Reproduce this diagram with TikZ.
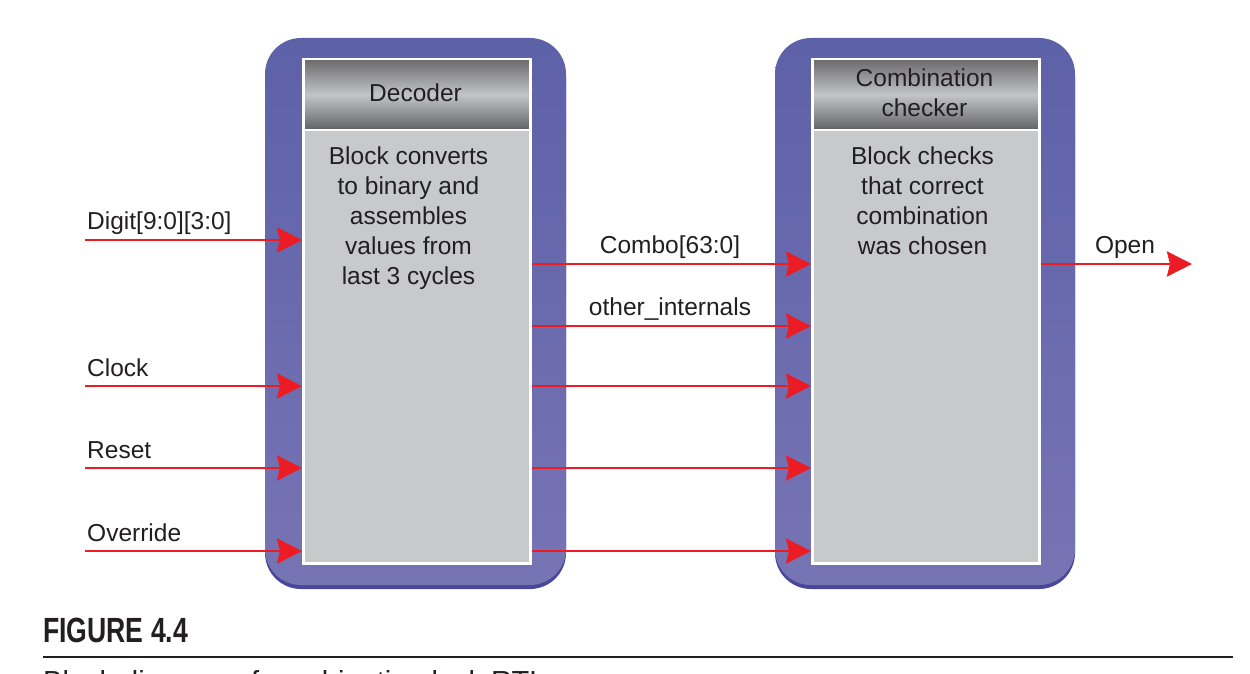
\documentclass[tikz,border=0pt]{standalone}
\usepackage{fontspec}
\setmainfont{Liberation Sans}
\usetikzlibrary{arrows.meta}
\definecolor{outertop}{HTML}{5D61A8}
\definecolor{outerbot}{HTML}{7774B4}
\definecolor{outerrim}{HTML}{4A479A}
\definecolor{hdrdark}{HTML}{6A6A6C}
\definecolor{hdrlight}{HTML}{C3C4C6}
\definecolor{hdrdark2}{HTML}{616163}
\definecolor{bodygray}{HTML}{C8C9CB}
\definecolor{sigred}{HTML}{EC1C24}
\definecolor{txt}{HTML}{231F20}
\tikzset{
  rim/.style={fill=outerrim, rounded corners=36pt},
  outer/.style={top color=outertop, bottom color=outerbot, rounded corners=36pt},
  hdrbox/.style={draw=white, line width=2.5pt, top color=hdrdark, bottom color=hdrdark2, middle color=hdrlight, minimum width=227pt, minimum height=71pt, inner sep=0pt, anchor=north west},
  bodybox/.style={draw=white, line width=2.5pt, fill=bodygray, minimum width=227pt, minimum height=433pt, inner sep=0pt, anchor=north west},
  sig/.style={draw=sigred, line width=2.8pt, -{Stealth[length=25pt,width=25pt,inset=3pt]}},
  lbl/.style={text=txt, font=\fontsize{24.5}{30}\selectfont, inner sep=0pt},
  blocktxt/.style={lbl, align=center, anchor=base},
}
\begin{document}
\begin{tikzpicture}[x=1pt,y=-1pt]
\clip (0,0) rectangle (1250,674);
\fill[white] (0,0) rectangle (1250,674);
% outer rounded blocks
\fill[rim] (265,42) rectangle (566,589);
\shade[outer] (265,38) rectangle (566,585);
\fill[rim] (775,42) rectangle (1075,589);
\shade[outer] (775,38) rectangle (1075,585);
% inner boxes
\node[bodybox] (decbody) at (302,129) {};
\node[hdrbox] (dechdr) at (302,58) {};
\node[bodybox] (chkbody) at (811,129) {};
\node[hdrbox] (chkhdr) at (811,58) {};
% header texts (base anchor = last line)
\node[blocktxt] (dectitle) at (415.5,102) {Decoder};
\node[blocktxt] (chktitle) at (924.5,117) {Combination\\checker};
% body texts
\node[blocktxt] (dectext) at (408.5,284) {Block converts\\to binary and\\assembles\\values from\\last 3 cycles};
\node[blocktxt] (chktext) at (922.5,254) {Block checks\\that correct\\combination\\was chosen};
% input signals
\coordinate (inDigit) at (85,240);
\coordinate (inClock) at (85,386);
\coordinate (inReset) at (85,468);
\coordinate (inOverride) at (85,551);
\draw[sig] (inDigit) -- (inDigit -| decbody.west);
\draw[sig] (inClock) -- (inClock -| decbody.west);
\draw[sig] (inReset) -- (inReset -| decbody.west);
\draw[sig] (inOverride) -- (inOverride -| decbody.west);
\node[lbl, anchor=base west] (lDigit) at (87,229) {Digit[9:0][3:0]};
\node[lbl, anchor=base west] (lClock) at (87,376) {Clock};
\node[lbl, anchor=base west] (lReset) at (87,458) {Reset};
\node[lbl, anchor=base west] (lOverride) at (87,541) {Override};
% internal signals
\coordinate (m1) at (0,264);
\coordinate (m2) at (0,326);
\coordinate (m3) at (0,386);
\coordinate (m4) at (0,468);
\coordinate (m5) at (0,551);
\draw[sig] (decbody.east |- m1) -- (chkbody.west |- m1);
\draw[sig] (decbody.east |- m2) -- (chkbody.west |- m2);
\draw[sig] (decbody.east |- m3) -- (chkbody.west |- m3);
\draw[sig] (decbody.east |- m4) -- (chkbody.west |- m4);
\draw[sig] (decbody.east |- m5) -- (chkbody.west |- m5);
\node[lbl, anchor=base] (lCombo) at (670,253) {Combo[63:0]};
\node[lbl, anchor=base] (lOther) at (670,315) {other\_internals};
% output
\coordinate (outOpen) at (1192,264);
\draw[sig] (chkbody.east |- outOpen) -- (outOpen);
\node[lbl, anchor=base] (lOpen) at (1125,253) {Open};
% caption
\node[anchor=base west, inner sep=0pt, text=txt, font=\fontsize{35}{40}\selectfont\bfseries] (figlbl) at (43,642) {\scalebox{0.76}[1]{FIGURE 4.4}};
\draw[txt, line width=2pt] (43,657) -- (1233,657);
\node[anchor=base west, inner sep=0pt, text=txt, font=\fontsize{29}{32}\selectfont] (caption) at (43,691) {Block diagram of combination lock RTL};
\end{tikzpicture}
\end{document}
